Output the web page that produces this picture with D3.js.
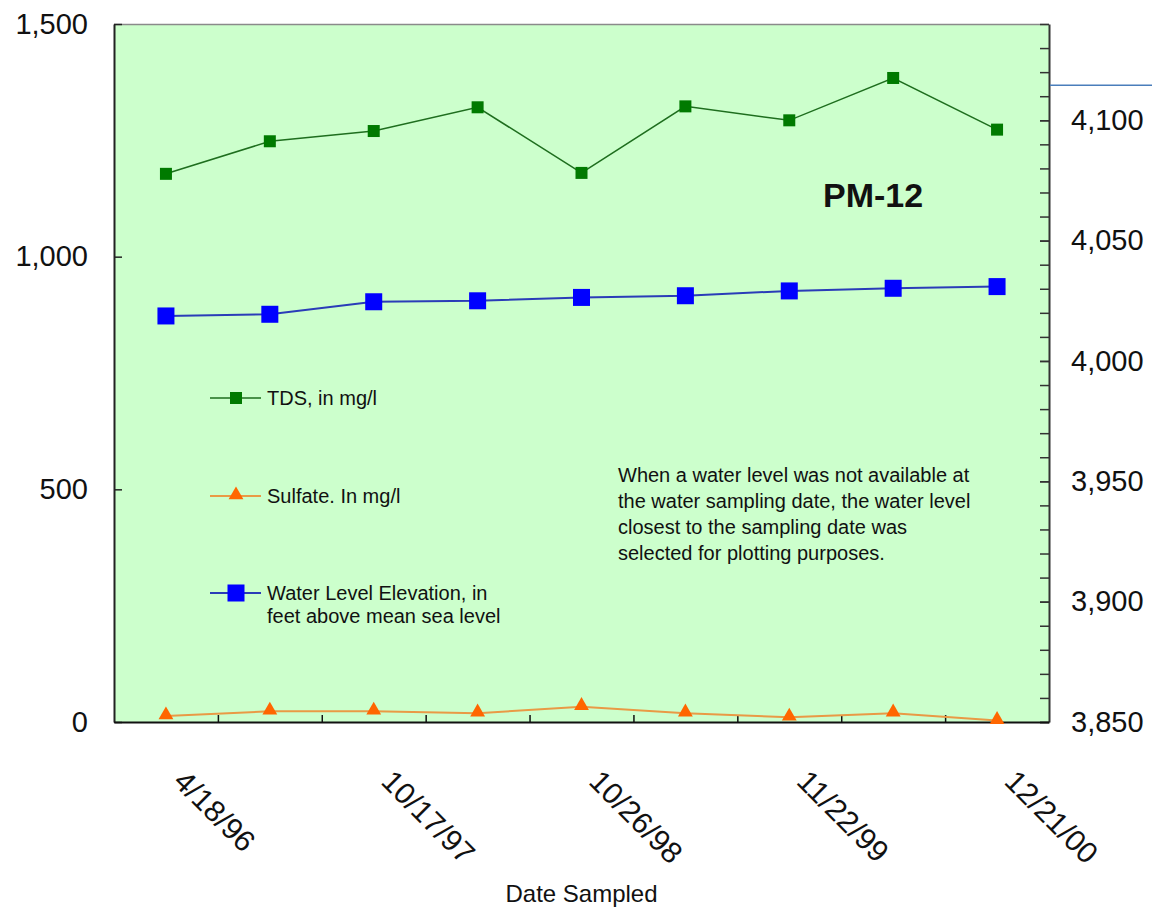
<!DOCTYPE html>
<html>
<head>
<meta charset="utf-8">
<script src="https://cdn.jsdelivr.net/npm/d3@7"></script>
<style>
  html, body { margin: 0; padding: 0; background: #ffffff; }
  svg { display: block; font-family: "Liberation Sans", Arial, sans-serif; }
</style>
</head>
<body>
<svg id="chart" width="1152" height="909"></svg>
<script>
// ---- data ----
const dateLabels = ["4/18/96", "", "10/17/97", "", "10/26/98", "", "11/22/99", "", "12/21/00"];
const tdsValues = [1178, 1248, 1270, 1321, 1180, 1323, 1293, 1384, 1273];
const sulfateValues = [13, 23, 23, 19, 33, 19, 10, 19, 3];
const waterLevelValues = [4018.7, 4019.4, 4024.6, 4025.0, 4026.4, 4027.1, 4029.1, 4030.2, 4030.9];
const leftTicks = [0, 500, 1000, 1500];
const rightMajorTicks = [3850, 3900, 3950, 4000, 4050, 4100];
const titleText = "PM-12";
const xAxisTitle = "Date Sampled";
const noteLines = [
  "When a water level was not available at",
  "the water sampling date, the water level",
  "closest to the sampling date was",
  "selected for plotting purposes."
];
const legendItems = [
  { key: "tds", lines: ["TDS, in mg/l"] },
  { key: "sulfate", lines: ["Sulfate. In mg/l"] },
  { key: "water", lines: ["Water Level Elevation, in", "feet above mean sea level"] }
];

// ---- layout ----
const L = 114, R = 1049, T = 24, B = 722;
const svg = d3.select("#chart");
const n = dateLabels.length;

const xBand = d3.scaleBand().domain(d3.range(n)).range([L, R]).padding(0);
const xBound = d3.scaleLinear().domain([0, n]).range([L, R]);
const xc = i => xBand(i) + xBand.bandwidth() / 2;
const yL = d3.scaleLinear().domain([0, 1500]).range([B, T]);
const yR = d3.scaleLinear().domain([3850, 4140]).range([B, T]);

const colors = {
  tds: "#007a00", tdsLine: "#1e6e1e",
  sulfate: "#ff6600", sulfateLine: "#e99a45",
  water: "#0000ff", waterLine: "#2a3cb8"
};

// plot background
svg.append("rect").attr("x", L).attr("y", T).attr("width", R - L).attr("height", B - T)
  .attr("fill", "#ccffcc");
// top border
svg.append("line").attr("x1", L).attr("x2", R).attr("y1", T + 0.5).attr("y2", T + 0.5)
  .attr("stroke", "#8a8a8a").attr("stroke-width", 1.5);

// left axis
const gL = svg.append("g").attr("transform", `translate(${L},0)`)
  .call(d3.axisLeft(yL).tickValues(leftTicks).tickFormat(d3.format(","))
    .tickSizeInner(-8).tickSizeOuter(0).tickPadding(26));
gL.select(".domain").attr("stroke", "#222").attr("stroke-width", 2);
gL.selectAll(".tick line").attr("stroke", "#222").attr("stroke-width", 1.5);
gL.selectAll(".tick text").attr("font-size", 29).attr("fill", "#111")
  .attr("font-family", "Liberation Sans, Arial, sans-serif");

// right axis (minor ticks)
const gRm = svg.append("g").attr("transform", `translate(${R},0)`)
  .call(d3.axisRight(yR).tickValues(d3.range(3850, 4141, 10)).tickFormat("")
    .tickSizeInner(-9).tickSizeOuter(0));
gRm.select(".domain").attr("stroke", "#333").attr("stroke-width", 2);
gRm.selectAll(".tick line").attr("stroke", "#333").attr("stroke-width", 1.5);
// right axis labels
const gR = svg.append("g").attr("transform", `translate(${R},0)`)
  .call(d3.axisRight(yR).tickValues(rightMajorTicks).tickFormat(d3.format(","))
    .tickSizeInner(-9).tickSizeOuter(0).tickPadding(22));
gR.select(".domain").remove();
gR.selectAll(".tick line").attr("stroke", "#333").attr("stroke-width", 1.5);
gR.selectAll(".tick text").attr("font-size", 29).attr("fill", "#111")
  .attr("font-family", "Liberation Sans, Arial, sans-serif");

// bottom axis (ticks at category boundaries)
const gB = svg.append("g").attr("transform", `translate(0,${B})`)
  .call(d3.axisBottom(xBound).tickValues(d3.range(1, n)).tickFormat("")
    .tickSizeInner(-7).tickSizeOuter(0));
gB.select(".domain").attr("stroke", "#111").attr("stroke-width", 2);
gB.selectAll(".tick line").attr("stroke", "#111").attr("stroke-width", 1.5);

// category labels rotated
svg.append("g").selectAll("text")
  .data(dateLabels.map((d, i) => ({ d, i })).filter(o => o.d !== ""))
  .join("text")
  .attr("transform", o => `translate(${xc(o.i) + 6},${B + 61}) rotate(45)`)
  .attr("font-size", 30).attr("fill", "#111")
  .text(o => o.d);

// x axis title
svg.append("text").attr("x", (L + R) / 2).attr("y", 902).attr("text-anchor", "middle")
  .attr("font-size", 24).attr("fill", "#111").text(xAxisTitle);

// stray line right of plot
svg.append("line").attr("x1", R + 1).attr("x2", 1152).attr("y1", yR(4114.6)).attr("y2", yR(4114.6))
  .attr("stroke", "#4a7ebb").attr("stroke-width", 1.5);

// series lines
const lineL = d3.line().x((d, i) => xc(i)).y(d => yL(d));
const lineR = d3.line().x((d, i) => xc(i)).y(d => yR(d));

svg.append("path").datum(sulfateValues).attr("d", lineL).attr("fill", "none")
  .attr("stroke", colors.sulfateLine).attr("stroke-width", 2);
svg.append("path").datum(tdsValues).attr("d", lineL).attr("fill", "none")
  .attr("stroke", colors.tdsLine).attr("stroke-width", 1.5);
svg.append("path").datum(waterLevelValues).attr("d", lineR).attr("fill", "none")
  .attr("stroke", colors.waterLine).attr("stroke-width", 2);

const tri = d3.symbol().type(d3.symbolTriangle).size(95);

svg.append("g").selectAll("rect").data(tdsValues).join("rect")
  .attr("x", (d, i) => xc(i) - 6).attr("y", d => yL(d) - 6)
  .attr("width", 12).attr("height", 12).attr("fill", colors.tds);
svg.append("g").selectAll("path").data(sulfateValues).join("path")
  .attr("d", tri).attr("transform", (d, i) => `translate(${xc(i)},${yL(d) - 1})`)
  .attr("fill", colors.sulfate);
svg.append("g").selectAll("rect").data(waterLevelValues).join("rect")
  .attr("x", (d, i) => xc(i) - 8.5).attr("y", d => yR(d) - 8.5)
  .attr("width", 17).attr("height", 17).attr("fill", colors.water);

// title
svg.append("text").attr("x", 823).attr("y", 207).attr("font-size", 34).attr("font-weight", "bold")
  .attr("fill", "#111").text(titleText);

// legend
const legendY = [398, 496, 593];
legendItems.forEach((item, k) => {
  const y = legendY[k];
  const g = svg.append("g");
  const lc = item.key === "tds" ? colors.tdsLine : item.key === "sulfate" ? colors.sulfateLine : colors.waterLine;
  g.append("line").attr("x1", 210).attr("x2", 261).attr("y1", y).attr("y2", y)
    .attr("stroke", lc).attr("stroke-width", item.key === "tds" ? 1.5 : 2);
  if (item.key === "tds") {
    g.append("rect").attr("x", 230).attr("y", y - 6).attr("width", 12).attr("height", 12).attr("fill", colors.tds);
  } else if (item.key === "sulfate") {
    g.append("path").attr("d", tri).attr("transform", `translate(236,${y - 1})`).attr("fill", colors.sulfate);
  } else {
    g.append("rect").attr("x", 227.5).attr("y", y - 8.5).attr("width", 17).attr("height", 17).attr("fill", colors.water);
  }
  item.lines.forEach((t, j) => {
    g.append("text").attr("x", 267).attr("y", y + 7 + j * 23).attr("font-size", 20)
      .attr("fill", "#111").text(t);
  });
});

// note
svg.append("g").selectAll("text").data(noteLines).join("text")
  .attr("x", 618).attr("y", (d, i) => 482 + i * 26).attr("font-size", 20).attr("fill", "#111")
  .text(d => d);
</script>
</body>
</html>
